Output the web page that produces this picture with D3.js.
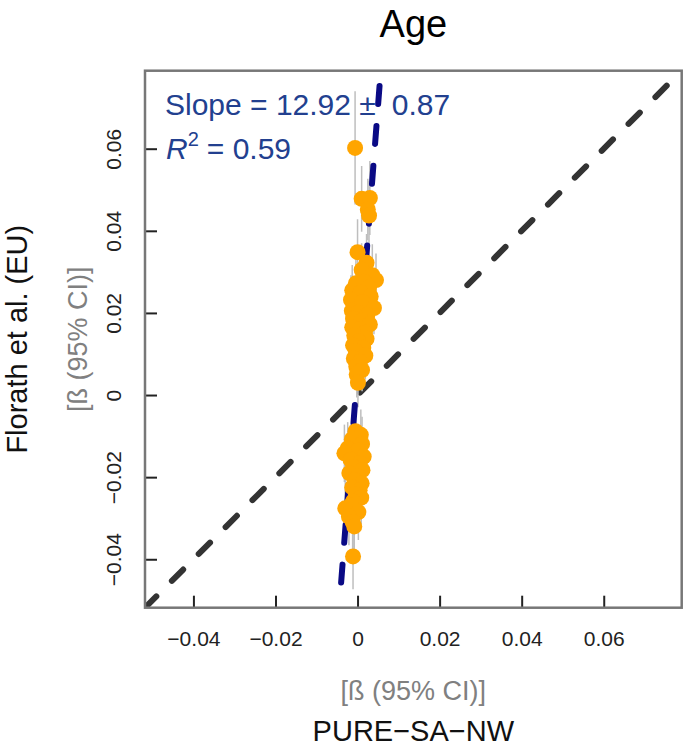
<!DOCTYPE html>
<html>
<head>
<meta charset="utf-8">
<script src="https://cdn.jsdelivr.net/npm/d3@7"></script>
<style>
  body { margin: 0; background: #fff; }
  text { font-family: "Liberation Sans", Arial, sans-serif; }
</style>
</head>
<body>
<div id="chart"></div>
<script>

// Betas per CpG: PURE-SA-NW (x) vs Florath et al. (y), with half-width of 95% CI
var pureBeta = [
  -0.0006, 0.0010, 0.0030, 0.0025, 0.0028,
  0.0000, 0.0022, 0.0010, 0.0036, 0.0045,
  -0.0004, 0.0016, 0.0028, -0.0013, 0.0008,
  0.0032, -0.0016, 0.0012, 0.0040, -0.0014,
  0.0002, 0.0024, -0.0011, 0.0010, 0.0030,
  -0.0013, 0.0005, 0.0018, -0.0008, 0.0022,
  0.0002, -0.0011, 0.0014, -0.0004, 0.0019,
  -0.0009, 0.0006, -0.0003, 0.0011, -0.0002,
  0.0001,
  -0.0005, 0.0008, -0.0014, 0.0011, -0.0024,
  0.0002, -0.0032, 0.0015, -0.0017, 0.0005,
  -0.0010, 0.0012, -0.0020, 0.0000, -0.0007,
  0.0010, -0.0013, 0.0005, -0.0004, 0.0009,
  -0.0011, -0.0030, -0.0016, 0.0002, -0.0021,
  -0.0012, -0.0008, -0.0011
];
var florathBeta = [
  0.0602, 0.0478, 0.0480, 0.0452, 0.0437,
  0.0348, 0.0322, 0.0305, 0.0292, 0.0280,
  0.0272, 0.0276, 0.0262, 0.0255, 0.0250,
  0.0240, 0.0232, 0.0226, 0.0212, 0.0205,
  0.0200, 0.0195, 0.0186, 0.0181, 0.0172,
  0.0165, 0.0160, 0.0152, 0.0145, 0.0137,
  0.0131, 0.0121, 0.0115, 0.0106, 0.0096,
  0.0089, 0.0081, 0.0069, 0.0061, 0.0050,
  0.0030,
  -0.0088, -0.0097, -0.0108, -0.0119, -0.0130,
  -0.0135, -0.0142, -0.0150, -0.0158, -0.0166,
  -0.0175, -0.0183, -0.0190, -0.0199, -0.0208,
  -0.0215, -0.0225, -0.0232, -0.0241, -0.0250,
  -0.0259, -0.0276, -0.0268, -0.0285, -0.0296,
  -0.0309, -0.0320, -0.0393
];
var pureErr = [
  0.0006, 0.0010, 0.0012, 0.0010, 0.0012,
  0.0010, 0.0012, 0.0009, 0.0015, 0.0015,
  0.0010, 0.0011, 0.0013, 0.0009, 0.0010,
  0.0012, 0.0010, 0.0011, 0.0014, 0.0009,
  0.0010, 0.0012, 0.0008, 0.0010, 0.0013,
  0.0009, 0.0010, 0.0011, 0.0008, 0.0012,
  0.0009, 0.0010, 0.0011, 0.0008, 0.0012,
  0.0009, 0.0010, 0.0008, 0.0011, 0.0009,
  0.0008,
  0.0010, 0.0012, 0.0011, 0.0013, 0.0014,
  0.0010, 0.0015, 0.0012, 0.0011, 0.0010,
  0.0012, 0.0011, 0.0013, 0.0010, 0.0009,
  0.0011, 0.0012, 0.0010, 0.0009, 0.0011,
  0.0010, 0.0014, 0.0012, 0.0010, 0.0013,
  0.0011, 0.0010, 0.0012
];
var florathErr = [
  0.0138, 0.0080, 0.0090, 0.0075, 0.0085,
  0.0080, 0.0070, 0.0065, 0.0075, 0.0065,
  0.0070, 0.0060, 0.0068, 0.0062, 0.0058,
  0.0066, 0.0060, 0.0055, 0.0064, 0.0058,
  0.0052, 0.0060, 0.0056, 0.0050, 0.0062,
  0.0055, 0.0050, 0.0058, 0.0052, 0.0060,
  0.0050, 0.0054, 0.0056, 0.0050, 0.0058,
  0.0052, 0.0050, 0.0055, 0.0052, 0.0056,
  0.0060,
  0.0058, 0.0062, 0.0060, 0.0066, 0.0064,
  0.0058, 0.0070, 0.0062, 0.0060, 0.0058,
  0.0064, 0.0060, 0.0066, 0.0058, 0.0062,
  0.0064, 0.0066, 0.0060, 0.0062, 0.0066,
  0.0064, 0.0072, 0.0066, 0.0068, 0.0070,
  0.0072, 0.0074, 0.0080
];

// regression fit shown in blue
var fitSlope = 12.92;
var fitIntercept = 0.006;
var fitRange = [-0.0040, 0.0063];

var xTicks = [-0.04, -0.02, 0, 0.02, 0.04, 0.06];
var xTickLabels = ["\u22120.04", "\u22120.02", "0", "0.02", "0.04", "0.06"];
var yTicks = [-0.04, -0.02, 0, 0.02, 0.04, 0.06];
var yTickLabels = ["\u22120.04", "\u22120.02", "0", "0.02", "0.04", "0.06"];

var width = 685, height = 747;
var margin = {top: 70.7, right: 3.3, bottom: 139.3, left: 145};
var plotW = width - margin.left - margin.right;
var plotH = height - margin.top - margin.bottom;

var svg = d3.select("#chart").append("svg")
  .attr("width", width)
  .attr("height", height);

var x = d3.scaleLinear().domain([-0.0518, 0.0790]).range([margin.left, margin.left + plotW]);
var y = d3.scaleLinear().domain([-0.0518, 0.0790]).range([margin.top + plotH, margin.top]);

svg.append("clipPath").attr("id", "plotClip")
  .append("rect")
  .attr("x", margin.left).attr("y", margin.top)
  .attr("width", plotW).attr("height", plotH);

var plot = svg.append("g").attr("clip-path", "url(#plotClip)");

// identity line
plot.append("line")
  .attr("x1", x(x.domain()[0])).attr("y1", y(y.domain()[0]))
  .attr("x2", x(x.domain()[1])).attr("y2", y(y.domain()[1]))
  .attr("stroke", "#333")
  .attr("stroke-width", 6)
  .attr("stroke-linecap", "round")
  .attr("stroke-dasharray", "16,22");

var pts = pureBeta.map(function(d, i){
  return {x: d, y: florathBeta[i], xe: pureErr[i], ye: florathErr[i]};
});

// confidence intervals
plot.selectAll(".ci-v").data(pts).enter().append("line")
  .attr("class", "ci-v")
  .attr("x1", d => x(d.x)).attr("x2", d => x(d.x))
  .attr("y1", d => y(d.y - d.ye)).attr("y2", d => y(d.y + d.ye))
  .attr("stroke", "#bebebe").attr("stroke-width", 1.5);

plot.selectAll(".ci-h").data(pts).enter().append("line")
  .attr("class", "ci-h")
  .attr("x1", d => x(d.x - d.xe)).attr("x2", d => x(d.x + d.xe))
  .attr("y1", d => y(d.y)).attr("y2", d => y(d.y))
  .attr("stroke", "#bebebe").attr("stroke-width", 1.5);

// fitted line
plot.append("line")
  .attr("x1", x(fitRange[0])).attr("y1", y(fitSlope * fitRange[0] + fitIntercept))
  .attr("x2", x(fitRange[1])).attr("y2", y(fitSlope * fitRange[1] + fitIntercept))
  .attr("stroke", "#0a0a85")
  .attr("stroke-width", 6)
  .attr("stroke-linecap", "round")
  .attr("stroke-dasharray", "18,22");

// points
plot.selectAll(".pt").data(pts).enter().append("circle")
  .attr("class", "pt")
  .attr("cx", d => x(d.x)).attr("cy", d => y(d.y))
  .attr("r", 8)
  .attr("fill", "#ffa500");

// axes, ticks pointing inward
var xAxis = d3.axisBottom(x).tickValues(xTicks)
  .tickFormat((d, i) => xTickLabels[i])
  .tickSize(-12).tickPadding(23);
var gx = svg.append("g")
  .attr("transform", "translate(0," + (margin.top + plotH) + ")")
  .call(xAxis);
gx.select(".domain").remove();
gx.selectAll("line").attr("stroke", "#222").attr("stroke-width", 2);
gx.selectAll("text").attr("font-size", 21).attr("fill", "#222")
  .style("font-family", "'Liberation Sans', Arial, sans-serif");

var yAxis = d3.axisLeft(y).tickValues(yTicks)
  .tickFormat((d, i) => yTickLabels[i])
  .tickSize(-12);
var gy = svg.append("g")
  .attr("transform", "translate(" + margin.left + ",0)")
  .call(yAxis);
gy.select(".domain").remove();
gy.selectAll("line").attr("stroke", "#222").attr("stroke-width", 2);
gy.selectAll("text")
  .attr("x", null).attr("dy", "0.35em")
  .attr("text-anchor", "middle")
  .attr("transform", "translate(-31,0) rotate(-90)")
  .attr("font-size", 21).attr("fill", "#222")
  .style("font-family", "'Liberation Sans', Arial, sans-serif");

// plot frame
svg.append("rect")
  .attr("x", margin.left).attr("y", margin.top)
  .attr("width", plotW).attr("height", plotH)
  .attr("fill", "none")
  .attr("stroke", "#777")
  .attr("stroke-width", 2.5);

var cx = margin.left + plotW / 2;
var cy = margin.top + plotH / 2;

// title
svg.append("text")
  .attr("x", cx).attr("y", 37)
  .attr("text-anchor", "middle")
  .attr("font-size", 38)
  .attr("fill", "#000")
  .text("Age");

// axis titles
svg.append("text")
  .attr("x", cx).attr("y", margin.top + plotH + 92)
  .attr("text-anchor", "middle")
  .attr("font-size", 27).attr("fill", "#808080")
  .text("[\u00df (95% CI)]");
svg.append("text")
  .attr("x", cx).attr("y", margin.top + plotH + 133)
  .attr("text-anchor", "middle")
  .attr("font-size", 29).attr("fill", "#111")
  .text("PURE\u2212SA\u2212NW");

svg.append("text")
  .attr("transform", "translate(" + (margin.left - 58) + "," + cy + ") rotate(-90)")
  .attr("text-anchor", "middle")
  .attr("font-size", 27).attr("fill", "#808080")
  .text("[\u00df (95% CI)]");
svg.append("text")
  .attr("transform", "translate(" + (margin.left - 118) + "," + cy + ") rotate(-90)")
  .attr("text-anchor", "middle")
  .attr("font-size", 29).attr("fill", "#111")
  .text("Florath et al. (EU)");

// regression annotation
var slopeText = svg.append("text")
  .attr("x", 165).attr("y", 115)
  .attr("font-size", 30).attr("fill", "#22408f");
slopeText.append("tspan").text("Slope = 12.92 \u00b1");
slopeText.append("tspan").attr("dx", 16).text("0.87");

var r2 = svg.append("text")
  .attr("x", 166).attr("y", 159)
  .attr("font-size", 30).attr("fill", "#22408f");
r2.append("tspan").attr("font-style", "italic").text("R");
r2.append("tspan").attr("font-size", 20).attr("dy", -13).text("2");
r2.append("tspan").attr("dy", 13).attr("dx", 8).text("= 0.59");

</script>
</body>
</html>
